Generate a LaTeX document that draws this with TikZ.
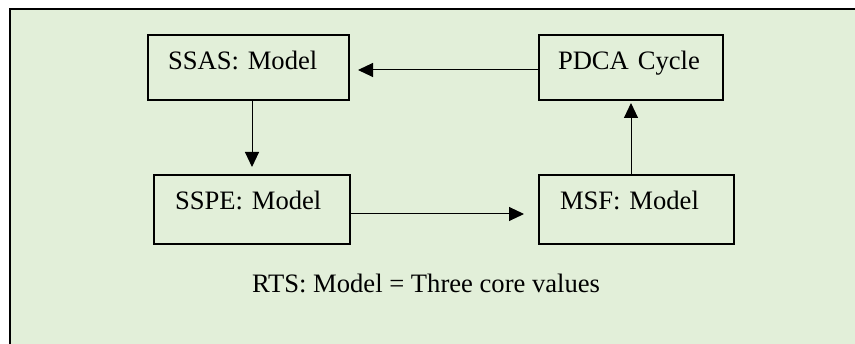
\documentclass[tikz,border=0pt]{standalone}
\usepackage{fontspec}
\setmainfont{Liberation Serif}
\usetikzlibrary{arrows.meta}
\definecolor{panelgreen}{HTML}{E2EFD9}
\begin{document}
\begin{tikzpicture}[x=1pt,y=-1pt,
  every node/.style={font=\fontsize{26.6}{32}\selectfont},
  modelbox/.style={draw=black, line width=1.3pt, outer sep=0pt,
    inner ysep=0pt, align=left, anchor=base west},
  arr/.style={line width=1pt, -{Triangle[length=15pt,width=14pt]}},
  plain/.style={inner sep=0pt, outer sep=0pt, anchor=base west}]
  \useasboundingbox (0,0) rectangle (855,344);
  \clip (0,0) rectangle (855,344);
  % panel behind the diagram
  \draw[line width=1.3pt, fill=panelgreen] (10,9) rectangle (880,380);

  % model boxes, text set near the top edge
  \node[modelbox, inner xsep=20pt, text width=161pt, text height=35pt, text depth=30pt]
    (ssas) at (148,70) {SSAS: Model};
  \node[modelbox, inner xsep=21pt, text width=154pt, text height=35pt, text depth=34pt]
    (sspe) at (154,210) {SSPE: Model};
  \node[modelbox, inner xsep=19pt, text width=146pt, text height=35pt, text depth=30pt]
    (pdca) at (539,70) {PDCA Cycle};
  \node[modelbox, inner xsep=21pt, text width=153pt, text height=35pt, text depth=34pt]
    (msf) at (539,210) {MSF: Model};

  \node[plain] (rts) at (252,293) {RTS: Model = Three core values};

  % connectors
  \draw[arr, shorten >=9pt] ([yshift=-2.5pt]pdca.west) -- ([yshift=-2.5pt]ssas.east);
  \draw[arr, shorten >=8pt] (ssas.south -| sspe.north) -- (sspe.north);
  \draw[arr, shorten >=15pt] ([yshift=-4.5pt]sspe.east) -- ([yshift=-4.5pt]msf.west);
  \draw[arr, shorten >=3pt] (msf.north -| pdca.south) -- (pdca.south);
\end{tikzpicture}
\end{document}
